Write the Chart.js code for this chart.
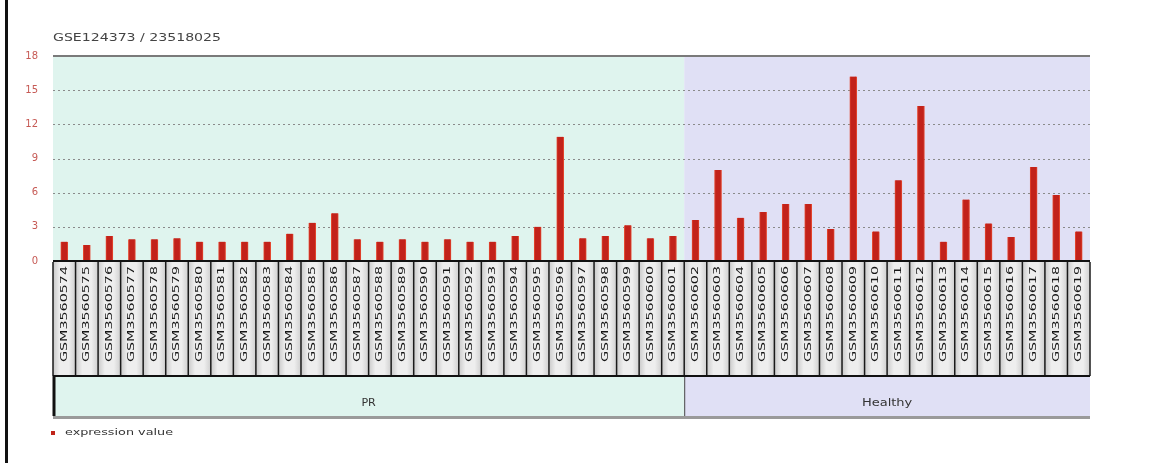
<!DOCTYPE html>
<html>
<head>
<meta charset="utf-8">
<script src="https://cdn.jsdelivr.net/npm/chart.js@4.4.1/dist/chart.umd.min.js"></script>
<style>
  html, body { margin: 0; padding: 0; background: #ffffff; }
  #wrap { position: relative; width: 1150px; height: 463px; }
  canvas { display: block; }
</style>
</head>
<body>
<div id="wrap"><canvas id="c" width="1150" height="463"></canvas></div>
<script>
const titleText = 'GSE124373 / 23518025';
const seriesName = 'expression value';
const categories = [
  'GSM3560574','GSM3560575','GSM3560576','GSM3560577','GSM3560578','GSM3560579','GSM3560580',
  'GSM3560581','GSM3560582','GSM3560583','GSM3560584','GSM3560585','GSM3560586','GSM3560587',
  'GSM3560588','GSM3560589','GSM3560590','GSM3560591','GSM3560592','GSM3560593','GSM3560594',
  'GSM3560595','GSM3560596','GSM3560597','GSM3560598','GSM3560599','GSM3560600','GSM3560601',
  'GSM3560602','GSM3560603','GSM3560604','GSM3560605','GSM3560606','GSM3560607','GSM3560608',
  'GSM3560609','GSM3560610','GSM3560611','GSM3560612','GSM3560613','GSM3560614','GSM3560615',
  'GSM3560616','GSM3560617','GSM3560618','GSM3560619'
];
const values = [
  1.7, 1.4, 2.2, 1.9, 1.9, 2.0, 1.7, 1.7, 1.7, 1.7,
  2.4, 3.35, 4.2, 1.9, 1.7, 1.9, 1.7, 1.9, 1.7, 1.7,
  2.2, 3.0, 10.9, 2.0, 2.2, 3.15, 2.0, 2.2,
  3.6, 8.0, 3.8, 4.3, 5.0, 5.0, 2.8, 16.2, 2.6, 7.1,
  13.6, 1.7, 5.4, 3.3, 2.1, 8.25, 5.8, 2.6
];
const groupNames = ['PR', 'Healthy'];
const groupSizes = [28, 18];
const groupColors = ['#dff4ee', '#e0e0f5'];
const yTicks = [0, 3, 6, 9, 12, 15, 18];

function stretchText(ctx, text, x, y, width, align) {
  const w = ctx.measureText(text).width;
  const s = width / w;
  ctx.save();
  ctx.translate(x, y);
  ctx.scale(s, 1);
  ctx.textAlign = 'left';
  let ox = 0;
  if (align === 'center') ox = -w / 2;
  else if (align === 'right') ox = -w;
  ctx.fillText(text, ox, 0);
  ctx.restore();
}

const decor = {
  id: 'decor',
  beforeDraw(chart) {
    const ctx = chart.ctx;
    const xs = chart.scales.x, ys = chart.scales.y;
    const ca = chart.chartArea;
    const step = xs.getPixelForValue(1) - xs.getPixelForValue(0);
    ctx.save();
    ctx.fillStyle = '#ffffff';
    ctx.fillRect(0, 0, chart.width, chart.height);
    let start = 0;
    groupSizes.forEach((n, g) => {
      const x0 = xs.getPixelForValue(start) - step / 2;
      const x1 = xs.getPixelForValue(start + n - 1) + step / 2;
      ctx.fillStyle = groupColors[g];
      ctx.fillRect(x0, ca.top, x1 - x0, ca.bottom - ca.top);
      start += n;
    });
    ctx.strokeStyle = '#8a8a8a';
    ctx.lineWidth = 1;
    ctx.setLineDash([2, 3]);
    yTicks.forEach(v => {
      if (v === yTicks[0] || v === yTicks[yTicks.length - 1]) return;
      const y = Math.round(ys.getPixelForValue(v)) + 0.5;
      ctx.beginPath(); ctx.moveTo(ca.left, y); ctx.lineTo(ca.right, y); ctx.stroke();
    });
    ctx.setLineDash([]);
    const yt = ys.getPixelForValue(yTicks[yTicks.length - 1]);
    ctx.strokeStyle = '#7a7a7a';
    ctx.lineWidth = 2;
    ctx.beginPath(); ctx.moveTo(ca.left, yt); ctx.lineTo(ca.right, yt); ctx.stroke();
    ctx.restore();
  },
  afterDatasetsDraw(chart) {
    const ctx = chart.ctx;
    const xs = chart.scales.x, ys = chart.scales.y;
    const ca = chart.chartArea;
    const step = xs.getPixelForValue(1) - xs.getPixelForValue(0);
    ctx.save();
    const cellTop = ca.bottom + 1, cellBot = 376;
    categories.forEach((name, i) => {
      const cx = xs.getPixelForValue(i);
      const x0 = cx - step / 2, x1 = cx + step / 2;
      const gr = ctx.createLinearGradient(x0, 0, x1, 0);
      gr.addColorStop(0, '#c9c9c9');
      gr.addColorStop(0.3, '#eeeeee');
      gr.addColorStop(0.7, '#eeeeee');
      gr.addColorStop(1, '#cfcfcf');
      ctx.fillStyle = gr;
      ctx.fillRect(x0, cellTop, step, cellBot - cellTop);
      ctx.fillStyle = '#151515';
      ctx.font = '9px "DejaVu Sans"';
      ctx.textBaseline = 'middle';
      ctx.save();
      ctx.translate(cx, 362);
      ctx.rotate(-Math.PI / 2);
      stretchText(ctx, name, 0, 0, 96, 'left');
      ctx.restore();
    });
    ctx.strokeStyle = '#1a1a1a';
    ctx.lineWidth = 1.5;
    for (let i = 0; i <= categories.length; i++) {
      const x = xs.getPixelForValue(0) - step / 2 + i * step;
      ctx.beginPath(); ctx.moveTo(x, cellTop); ctx.lineTo(x, cellBot); ctx.stroke();
    }
    const y0 = ys.getPixelForValue(yTicks[0]);
    ctx.strokeStyle = '#111111';
    ctx.lineWidth = 2;
    ctx.beginPath(); ctx.moveTo(ca.left, y0); ctx.lineTo(ca.right, y0); ctx.stroke();
    const bandTop = cellBot, bandBot = 416;
    let start = 0;
    groupSizes.forEach((n, g) => {
      const x0 = xs.getPixelForValue(start) - step / 2;
      const x1 = xs.getPixelForValue(start + n - 1) + step / 2;
      ctx.fillStyle = groupColors[g];
      ctx.fillRect(x0, bandTop, x1 - x0, bandBot - bandTop);
      ctx.fillStyle = '#333333';
      ctx.font = '10px "DejaVu Sans"';
      ctx.textBaseline = 'middle';
      const lw = groupNames[g].length * 7.2;
      stretchText(ctx, groupNames[g], (x0 + x1) / 2, 403, lw, 'center');
      if (g > 0) {
        ctx.strokeStyle = '#444444';
        ctx.lineWidth = 1;
        ctx.beginPath(); ctx.moveTo(x0 + 0.5, bandTop); ctx.lineTo(x0 + 0.5, bandBot); ctx.stroke();
      }
      start += n;
    });
    ctx.strokeStyle = '#111111';
    ctx.lineWidth = 2;
    ctx.beginPath(); ctx.moveTo(ca.left, bandTop); ctx.lineTo(ca.right, bandTop); ctx.stroke();
    ctx.lineWidth = 3;
    ctx.beginPath(); ctx.moveTo(ca.left + 1, bandTop); ctx.lineTo(ca.left + 1, bandBot); ctx.stroke();
    ctx.strokeStyle = '#9a9a9a';
    ctx.lineWidth = 3;
    ctx.beginPath(); ctx.moveTo(ca.left, bandBot + 1.5); ctx.lineTo(ca.right, bandBot + 1.5); ctx.stroke();
    ctx.fillStyle = '#444444';
    ctx.font = '11px "DejaVu Sans"';
    ctx.textBaseline = 'middle';
    stretchText(ctx, titleText, 53, 38, 168, 'left');
    ctx.fillStyle = '#c0241a';
    ctx.fillRect(51, 431, 4, 4);
    ctx.fillStyle = '#333333';
    ctx.font = '9px "DejaVu Sans"';
    stretchText(ctx, seriesName, 65, 433, 108, 'left');
    ctx.fillStyle = '#111111';
    ctx.fillRect(5, 0, 3, chart.height);
    ctx.restore();
  }
};

new Chart(document.getElementById('c'), {
  type: 'bar',
  data: {
    labels: categories,
    datasets: [{
      label: seriesName,
      data: values,
      backgroundColor: '#c2221a',
      borderColor: '#e4462e',
      borderWidth: { left: 1, right: 1, top: 0, bottom: 0 },
      borderSkipped: false,
      barThickness: 7
    }]
  },
  options: {
    responsive: false,
    animation: false,
    devicePixelRatio: 1,
    layout: { padding: { left: 13, top: 56, right: 60, bottom: 202 } },
    plugins: { legend: { display: false }, tooltip: { enabled: false } },
    scales: {
      x: { display: false, offset: true },
      y: {
        min: yTicks[0],
        max: yTicks[yTicks.length - 1],
        afterBuildTicks: s => { s.ticks = yTicks.map(v => ({ value: v })); },
        afterFit: s => { s.width = 40; },
        grid: { display: false },
        border: { display: false },
        ticks: { color: '#c65a55', padding: 7, font: { size: 10, family: 'DejaVu Sans' } }
      }
    }
  },
  plugins: [decor]
});
</script>
</body>
</html>
